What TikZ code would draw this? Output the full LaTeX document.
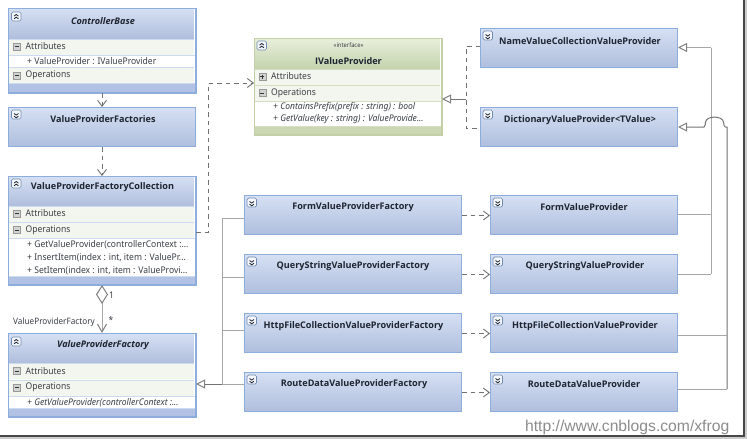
\documentclass[tikz,border=0pt]{standalone}
\usepackage{fontspec}
\usetikzlibrary{arrows.meta}
\setmainfont{Noto Sans}
\newfontfamily\urlfont{Liberation Sans}
\newfontfamily\headfont{Open Sans}
\newfontfamily\rowfont[FakeStretch=0.93]{Noto Sans}
\definecolor{edgeblue}{HTML}{8DAEDC}
\definecolor{headtop}{HTML}{D6E0F3}
\definecolor{headbot}{HTML}{AFBEDD}
\definecolor{footblue}{HTML}{B2C2E4}
\definecolor{edgegreen}{HTML}{C4CFA8}
\definecolor{greentop}{HTML}{E8EFDC}
\definecolor{greenbot}{HTML}{C4D2AC}
\definecolor{footgreen}{HTML}{CAD7B2}
\definecolor{bandfill}{HTML}{F3F6EE}
\definecolor{rulegray}{HTML}{A6A6A6}
\definecolor{dashgray}{HTML}{727272}
\definecolor{inktext}{HTML}{1E2430}
\definecolor{rowtext}{HTML}{3A3F46}
\tikzset{
  x=1pt, y=-1pt,
  classblue/.style={draw=edgeblue, line width=1pt, top color=headtop, bottom color=headbot, anchor=north west, inner sep=0pt},
  classtall/.style={draw=edgeblue, line width=1pt, fill=white, anchor=north west, inner sep=0pt},
  classgreen/.style={draw=edgegreen, line width=1pt, fill=white, anchor=north west, inner sep=0pt},
  titletext/.style={text=inktext, font=\headfont\fontsize{9.1}{12}\selectfont\bfseries, inner sep=0pt, yshift=-1.4pt},
  titleital/.style={titletext, font=\headfont\fontsize{9.1}{12}\selectfont\bfseries\itshape},
  rowlabel/.style={text=rowtext, font=\rowfont\fontsize{9.2}{11}\selectfont, anchor=west, inner sep=0pt, yshift=-.5pt},
  rowital/.style={rowlabel, font=\rowfont\fontsize{9.2}{11}\selectfont\itshape},
  rolelabel/.style={rowlabel, font=\rowfont\fontsize{8.8}{10}\selectfont},
  genline/.style={draw=rulegray, line width=1pt},
  realize/.style={genline, {Triangle[open, fill=white, length=9pt, width=9pt, color=dashgray!90]}-},
  depend/.style={draw=dashgray, line width=.9pt, dash pattern=on 4.5pt off 4pt, -{Straight Barb[length=6pt, width=9pt, color=dashgray]}},
  dashplain/.style={draw=dashgray, line width=.9pt, dash pattern=on 4.5pt off 4pt},
}
% header gradient of a tall class box: left, top, bottom of the header
\newcommand\headblue[3]{\shade[top color=headtop, bottom color=headbot] (#1,#2) rectangle (#1+185,#3);}
\newcommand\headgreen[3]{\shade[top color=greentop, bottom color=greenbot] (#1,#2) rectangle (#1+185,#3);}
% compartment strips of a class box
\newcommand\bandstrip[3]{\fill[bandfill] (#1,#2) rectangle ++(185,#3); \draw[edgeblue!45, line width=.7pt] (#1,#2) -- ++(185,0);}
\newcommand\bandstripg[3]{\fill[bandfill] (#1,#2) rectangle ++(185,#3); \draw[edgegreen!70, line width=.7pt] (#1,#2) -- ++(185,0);}
% collapse or expand toggle in a class header; #3 is 1 for upward chevrons, -1 for downward
\newcommand\headtoggle[3]{%
  \draw[draw=edgeblue!80!black, fill=white!70!headtop, rounded corners=1.5pt, line width=.7pt] (#1,#2) rectangle ++(9.5,9);
  \draw[inktext, line width=.8pt] (#1+2.5,#2+3.5+#3*0.3+0.3) -- ++(2.25,-#3*1.6) -- ++(2.25,#3*1.6);
  \draw[inktext, line width=.8pt] (#1+2.5,#2+6.2+#3*0.3+0.3) -- ++(2.25,-#3*1.6) -- ++(2.25,#3*1.6);}
% tree toggle in front of a compartment name; #3 is 1 for a plus sign
\newcommand\rowtoggle[3]{%
  \draw[draw=gray!80, fill=gray!35, line width=.6pt] (#1,#2-3.3) rectangle ++(6.8,6.6);
  \draw[black!80, line width=.8pt] (#1+1.4,#2) -- ++(4,0);
  \ifnum#3=1 \draw[black!80, line width=.8pt] (#1+3.4,#2-2) -- ++(0,4);\fi}
\begin{document}
\begin{tikzpicture}
\useasboundingbox (0,0) rectangle (747,439);
\fill[white] (0,0) rectangle (747,439);

% window edge along the right and the bottom
\fill[black!20] (745,0) rectangle (746.5,437.5);
\fill[black!20] (0,437) rectangle (746.5,438.5);
\fill[black!72] (743,0) rectangle (745,437);
\fill[black!72] (0,435) rectangle (745,437);

% ---- left column ----
\node[classtall, minimum width=187pt, minimum height=84pt] (cbase) at (8,8) {};
\headblue{8.5}{8.5}{39}
\bandstrip{8.5}{39}{16}
\bandstrip{8.5}{67}{16}
\fill[footblue] (8.5,83) rectangle (194.5,91.5);
\draw[edgeblue!45, line width=.7pt] (8.5,55) -- (194.5,55) (8.5,83) -- (194.5,83);
\draw[edgeblue, line width=1pt] (cbase.north west) rectangle (cbase.south east);
\headtoggle{11.5}{12}{1}
\node[titleital] (cbaseT) at (103,19.5) {ControllerBase};
\rowtoggle{13.5}{46.5}{0}
\node[rowlabel] (cbaseA) at (25.5,46) {Attributes};
\node[rowlabel] (cbaseP) at (27,61) {+ ValueProvider : IValueProvider};
\rowtoggle{13.5}{75.5}{0}
\node[rowlabel] (cbaseO) at (25.5,75) {Operations};

\node[classblue, minimum width=187pt, minimum height=39pt] (vpfs) at (8,107) {};
\headtoggle{11.5}{110}{-1}
\node[titletext] (vpfsT) at (103,117.5) {ValueProviderFactories};

\node[classtall, minimum width=187pt, minimum height=108pt] (vpfc) at (8,176) {};
\headblue{8.5}{176.5}{206}
\bandstrip{8.5}{206}{16}
\bandstrip{8.5}{222}{16}
\fill[footblue] (8.5,276) rectangle (194.5,283.5);
\draw[edgeblue!45, line width=.7pt] (8.5,238) -- (194.5,238) (8.5,276) -- (194.5,276);
\draw[edgeblue, line width=1pt] (vpfc.north west) rectangle (vpfc.south east);
\headtoggle{11.5}{179}{1}
\node[titletext] (vpfcT) at (102.5,186) {ValueProviderFactoryCollection};
\rowtoggle{13.5}{213.5}{0}
\node[rowlabel] (vpfcA) at (25.5,213) {Attributes};
\rowtoggle{13.5}{230}{0}
\node[rowlabel] (vpfcO) at (25.5,229.5) {Operations};
\node[rowlabel] (vpfcM1) at (27,244.5) {+ GetValueProvider(controllerContext :...};
\node[rowlabel] (vpfcM2) at (27,257) {+ InsertItem(index : int, item : ValuePr...};
\node[rowlabel] (vpfcM3) at (27,270) {+ SetItem(index : int, item : ValueProvi...};

\node[classtall, minimum width=187pt, minimum height=83pt] (vpf) at (8,333) {};
\headblue{8.5}{333.5}{363}
\bandstrip{8.5}{363}{16}
\bandstrip{8.5}{380}{16}
\fill[footblue] (8.5,408) rectangle (194.5,415.5);
\draw[edgeblue!45, line width=.7pt] (8.5,396) -- (194.5,396) (8.5,408) -- (194.5,408);
\draw[edgeblue, line width=1pt] (vpf.north west) rectangle (vpf.south east);
\headtoggle{11.5}{337}{1}
\node[titleital] (vpfT) at (103,344) {ValueProviderFactory};
\rowtoggle{13.5}{371}{0}
\node[rowlabel] (vpfA) at (25.5,371) {Attributes};
\rowtoggle{13.5}{387.5}{0}
\node[rowlabel] (vpfO) at (25.5,387) {Operations};
\node[rowital] (vpfM) at (27,402) {+ GetValueProvider(controllerContext :...};

% ---- interface ----
\node[classgreen, minimum width=187pt, minimum height=96pt] (ivp) at (254,38) {};
\headgreen{254.5}{38.5}{69}
\bandstripg{254.5}{69}{16}
\bandstripg{254.5}{85}{16}
\fill[footgreen] (254.5,126) rectangle (440.5,133.5);
\draw[edgegreen!70, line width=.7pt] (254.5,101) -- (440.5,101) (254.5,126) -- (440.5,126);
\draw[edgegreen, line width=1pt] (ivp.north west) rectangle (ivp.south east);
\headtoggle{257}{41}{1}
\node[text=rowtext, font=\rowfont\fontsize{6.2}{7}\selectfont, inner sep=0pt] (ivpS) at (348.5,45) {«interface»};
\node[titletext] (ivpT) at (348.5,59.5) {IValueProvider};
\rowtoggle{259}{76.5}{1}
\node[rowlabel] (ivpA) at (271,76) {Attributes};
\rowtoggle{259}{93}{0}
\node[rowlabel] (ivpO) at (271,93) {Operations};
\node[rowital] (ivpM1) at (273,107) {+ ContainsPrefix(prefix : string) : bool};
\node[rowital] (ivpM2) at (273,119) {+ GetValue(key : string) : ValueProvide...};

% ---- provider bases ----
\node[classblue, minimum width=197pt, minimum height=39pt] (nvc) at (480,28) {};
\headtoggle{483}{31}{-1}
\node[titletext] (nvcT) at (580,39.5) {NameValueCollectionValueProvider};
\node[classblue, minimum width=197pt, minimum height=39pt] (dict) at (480,107) {};
\headtoggle{483}{110}{-1}
\node[titletext] (dictT) at (580,118.5) {DictionaryValueProvider<TValue>};

% ---- factories ----
\node[classblue, minimum width=217pt, minimum height=39pt] (ffac) at (244,195) {};
\headtoggle{247}{198}{-1}
\node[titletext] (ffacT) at (353,206) {FormValueProviderFactory};
\node[classblue, minimum width=217pt, minimum height=39pt] (qfac) at (244,254) {};
\headtoggle{247}{257}{-1}
\node[titletext] (qfacT) at (353,265) {QueryStringValueProviderFactory};
\node[classblue, minimum width=217pt, minimum height=39pt] (hfac) at (244,313) {};
\headtoggle{247}{316}{-1}
\node[titletext] (hfacT) at (353.5,324.5) {HttpFileCollectionValueProviderFactory};
\node[classblue, minimum width=217pt, minimum height=39pt] (rfac) at (244,372) {};
\headtoggle{247}{375}{-1}
\node[titletext] (rfacT) at (354,383) {RouteDataValueProviderFactory};

% ---- providers ----
\node[classblue, minimum width=187pt, minimum height=39pt] (fprov) at (490,195) {};
\headtoggle{493}{198}{-1}
\node[titletext] (fprovT) at (584,206) {FormValueProvider};
\node[classblue, minimum width=187pt, minimum height=39pt] (qprov) at (490,254) {};
\headtoggle{493}{257}{-1}
\node[titletext] (qprovT) at (585,265) {QueryStringValueProvider};
\node[classblue, minimum width=187pt, minimum height=39pt] (hprov) at (490,313) {};
\headtoggle{493}{316}{-1}
\node[titletext] (hprovT) at (585,324.5) {HttpFileCollectionValueProvider};
\node[classblue, minimum width=187pt, minimum height=39pt] (rprov) at (490,372) {};
\headtoggle{493}{375}{-1}
\node[titletext] (rprovT) at (584,383) {RouteDataValueProvider};

% ---- usage arrows ----
\draw[depend] (cbase.south) -- (vpfs.north);
\draw[depend] (vpfs.south) -- (vpfc.north);
\coordinate (useA) at (208,232);
\coordinate (useB) at (208,83);
\draw[depend] (vpfc.east |- useA) -- (useA) -- (useB) -- (ivp.west |- useB);

\foreach \fa/\pr in {ffac/fprov,qfac/qprov,hfac/hprov,rfac/rprov}
  \draw[depend] ([yshift=-.5pt]\fa.east) -- ([yshift=-.5pt]\pr.west);

% ---- aggregation ----
\draw[rulegray, line width=1pt, {Diamond[open, fill=white, length=19pt, width=12pt, color=dashgray!90]}-{Straight Barb[length=8pt, width=9pt, color=dashgray!90]}] (vpfc.south) -- (vpf.north);
\node[rowlabel] (aggOne) at (109,295) {1};
\node[rowlabel] (aggMany) at (108.5,319.5) {*};
\node[rolelabel] (aggRole) at (13,322) {ValueProviderFactory};

% ---- realization of the interface ----
\coordinate (rzTrunk) at (466,99);
\coordinate (rzTop) at (466,46);
\coordinate (rzBot) at (466,128);
\draw[realize, draw=dashgray] (ivp.east |- rzTrunk) -- (rzTrunk);
\draw[dashplain] (nvc.west |- rzTop) -- (rzTop) -- (rzBot) -- (dict.west |- rzBot);

% ---- factory tree ----
\coordinate (ftA) at (222,218);
\coordinate (ftB) at (222,277);
\coordinate (ftC) at (222,330);
\coordinate (ftD) at (222,384);
\draw[genline] (ffac.west |- ftA) -- (ftA) -- (ftD);
\draw[genline] (qfac.west |- ftB) -- (ftB);
\draw[genline] (hfac.west |- ftC) -- (ftC);
\draw[genline] (rfac.west |- ftD) -- (ftD);
\draw[realize, draw=dashgray] (vpf.east |- ftD) -- (ftD);

% ---- provider trees ----
\coordinate (ntTop) at (711,47.5);
\coordinate (ntA) at (711,214);
\coordinate (ntB) at (711,274);
\draw[genline] (ntTop) -- (ntB);
\draw[realize] (nvc.east |- ntTop) -- (ntTop);
\draw[genline] (fprov.east |- ntA) -- (ntA);
\draw[genline] (qprov.east |- ntB) -- (ntB);

\coordinate (dtIn) at (704,127);
\coordinate (dtOut) at (725.5,127);
\coordinate (dtC) at (727,335);
\coordinate (dtD) at (727,389);
\draw[realize, draw=dashgray] (dict.east |- dtIn) -- (dtIn)
  .. controls (705.5,127) and (705,124) .. (705.5,122)
  .. controls (706.5,115.5) and (722.5,115.5) .. (723.5,122)
  .. controls (724,125) and (724,127) .. (dtOut) -- (727,127) -- (dtD);
\draw[genline] (hprov.east |- dtC) -- (dtC);
\draw[genline] (rprov.east |- dtD) -- (dtD);

% ---- address line ----
\node[text=black!45, font=\urlfont\fontsize{15.7}{18}\selectfont, anchor=base east, inner sep=0pt] (addr) at (729.5,431) {http://www.cnblogs.com/xfrog};
\end{tikzpicture}
\end{document}
